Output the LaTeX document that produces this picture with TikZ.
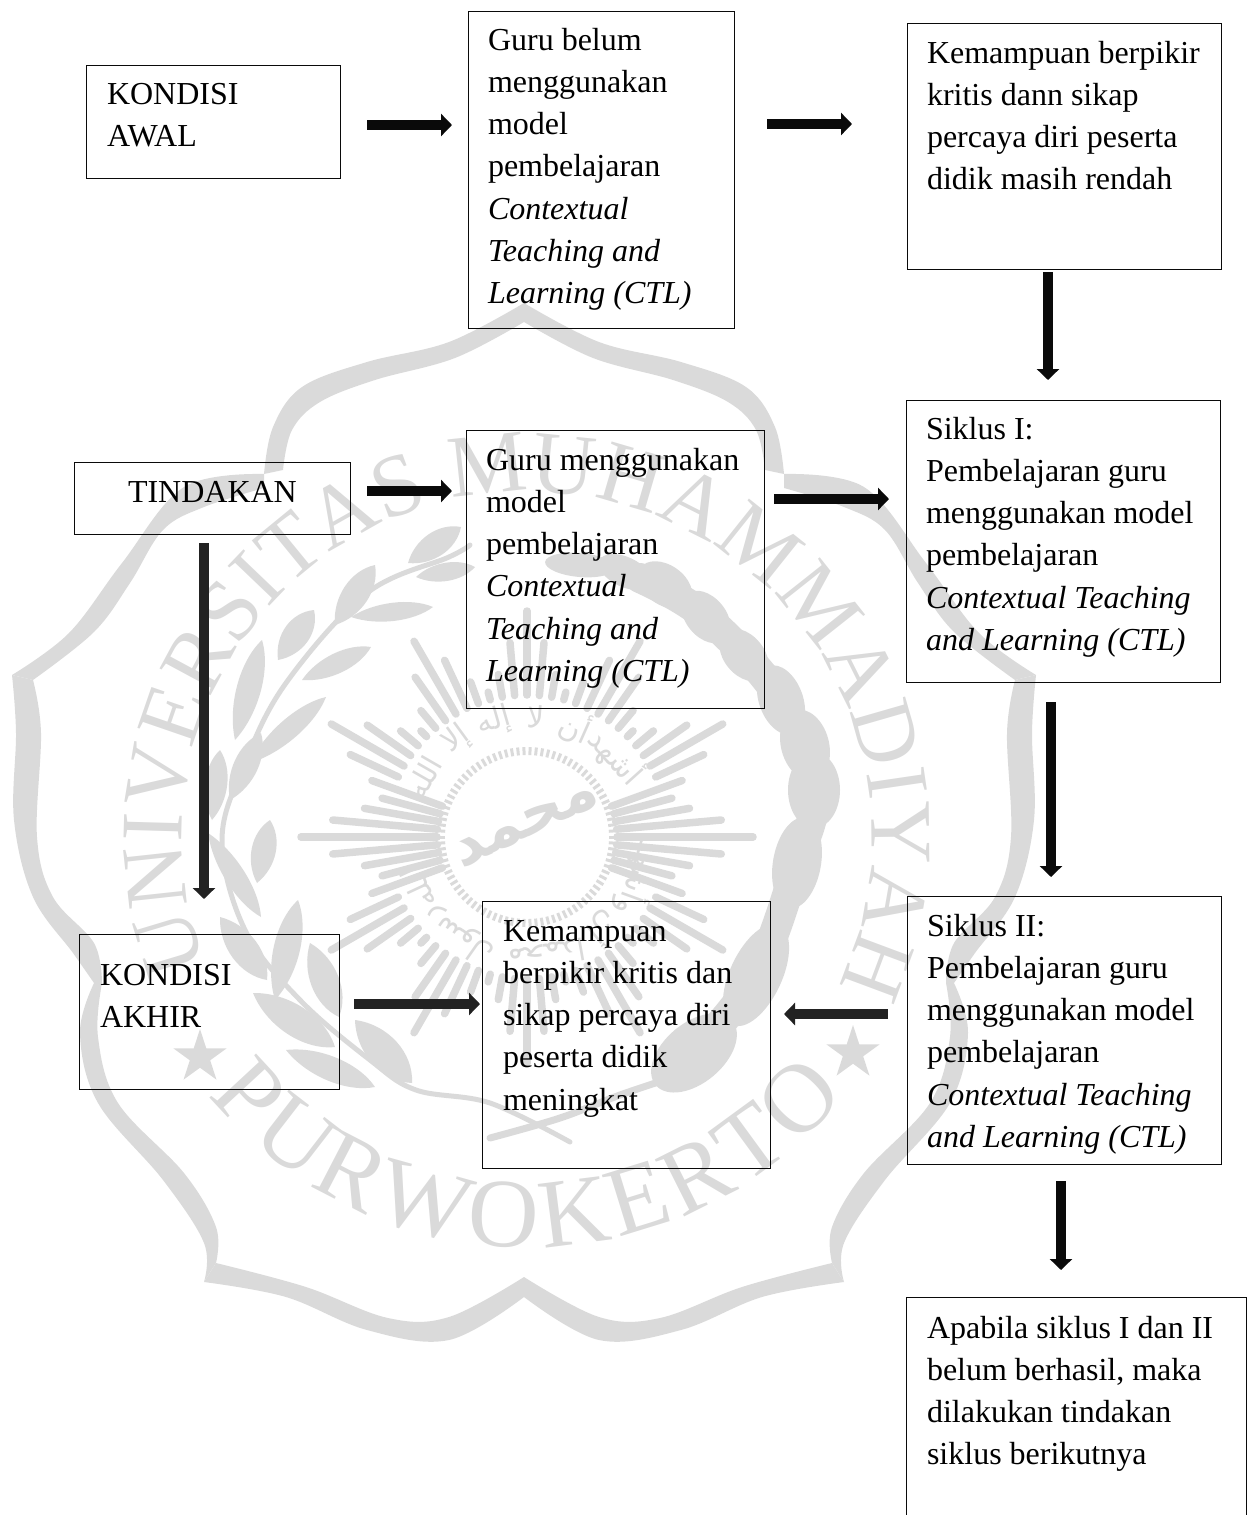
\documentclass[tikz,border=0pt]{standalone}
\usepackage{fontspec}
\setmainfont{Liberation Serif}
\newfontfamily\arabicfont[Script=Arabic]{DejaVu Sans}
\TeXXeTstate=1
\usetikzlibrary{arrows.meta,shapes.geometric,decorations.text,calc}
\definecolor{wm}{HTML}{DADADA}
\definecolor{ink}{HTML}{0A0A0A}
\definecolor{inkb}{HTML}{222222}
\tikzset{
  boxnode/.style={draw=ink,line width=1pt,inner sep=0pt,outer sep=0pt,anchor=north west},
  flow/.style={line width=10.5pt,draw=ink,-{Triangle[length=11pt,width=22pt]}},
  flowb/.style={flow,draw=inkb},
  ray/.style={draw=wm,line width=7.5pt,line cap=round},
  tick/.style={draw=wm,line width=3pt},
  wmword/.style={text=wm,inner sep=0pt},
  wmstar/.style={star,star points=5,star point ratio=2.618,fill=wm,minimum size=56pt,inner sep=0pt}
}
% name, x1, y1, x2, y2, text x, first baseline, text
\newcommand\flowbox[8]{%
  \pgfmathsetlengthmacro{\bw}{(#4-#2)*1pt}%
  \pgfmathsetlengthmacro{\bh}{(#5-#3)*1pt}%
  \pgfmathsetlengthmacro{\bl}{(#6-#2)*1pt}%
  \pgfmathsetlengthmacro{\bt}{(#7-#3-29.6)*1pt}%
  \node[boxnode] (#1) at (#2,#3) {\fontsize{32}{42.3}\selectfont
    \parbox[c][\bh][t]{\bw}{\vspace*{\bt}\raggedright\leftskip=\bl\relax\strut #8}};%
}
% leaf from base to tip with half-width
\newcommand\wmleaf[5]{%
  \pgfmathsetmacro{\lnx}{-(#4-#2)/veclen(#3-#1,#4-#2)*#5*1.35}%
  \pgfmathsetmacro{\lny}{(#3-#1)/veclen(#3-#1,#4-#2)*#5*1.35}%
  \fill[wm] (#1,#2) .. controls ($(#1,#2)!.3!(#3,#4)+(\lnx,\lny)$) and ($(#1,#2)!.75!(#3,#4)+(\lnx,\lny)$) .. (#3,#4)
     .. controls ($(#1,#2)!.75!(#3,#4)-(\lnx,\lny)$) and ($(#1,#2)!.3!(#3,#4)-(\lnx,\lny)$) .. (#1,#2);%
}
\newcommand\wmbead[5]{%
  \fill[wm,rotate around={#5:(#1,#2)}] (#1,#2) ellipse [x radius=#3pt,y radius=#4pt];%
}
\begin{document}
\begin{tikzpicture}[x=1pt,y=-1pt]
\useasboundingbox (0,0) rectangle (1252,1515);
\clip (0,0) rectangle (1252,1515);

%% ---------- watermark ----------
\foreach \mx/\sx in {0/1,1048/-1}{
\begin{scope}[shift={(\mx,0)},x=\sx pt]
  \fill[wm] plot[smooth,tension=.6] coordinates {(524,303)(449,342)(367,362)(302,387)(273,427)(264,474)}
     -- plot[smooth,tension=.6] coordinates {(283,470)(292,430)(320,402)(375,380)(455,358)(524,322)} -- cycle;
  \fill[wm] plot[smooth,tension=.6] coordinates {(264,474)(184,487)(122,563)(69,633)(12,675)}
     -- plot[smooth,tension=.6] coordinates {(33,680)(94,632)(130,583)(163,530)(204,507)(264,488)} -- cycle;
  \fill[wm] plot[smooth,tension=.6] coordinates {(12,675)(16,733)(14,820)(33,897)(73,953)(94,983)}
     -- plot[smooth,tension=.6] coordinates {(102,983)(94,943)(53,897)(37,837)(41,733)(33,680)} -- cycle;
  \fill[wm] plot[smooth,tension=.6] coordinates {(94,983)(80,1033)(98,1103)(163,1180)(204,1243)(204,1282)}
     -- plot[smooth,tension=.6] coordinates {(216,1263)(216,1227)(184,1173)(118,1103)(98,1037)(102,983)} -- cycle;
  \fill[wm] plot[smooth,tension=.6] coordinates {(204,1282)(286,1297)(367,1330)(449,1340)(524,1297)}
     -- plot[smooth,tension=.6] coordinates {(524,1277)(449,1317)(388,1318)(306,1287)(216,1263)} -- cycle;
\end{scope}}

\node[wmstar] (starL) at (200,1057) {};
\node[wmstar] (starR) at (853,1053) {};

% arc lettering
\path[decorate,decoration={text along path,text={|\fontsize{88}{88}\selectfont|UNIVERSITAS MUHAMMADIYAH},text align={fit to path},text color=wm}]
  (207,966) arc[start angle=202,end angle=-22,radius=345pt];
\path[decorate,decoration={text along path,text={|\fontsize{98}{98}\selectfont|PURWOKERTO},text align={fit to path},text color=wm}]
  (208,1095) arc[start angle=219,end angle=321,radius=410pt];

% sun
\foreach \c in {0,30,...,330}{
  \foreach \o/\r in {-10/165,-5/195,0/226,5/195,10/165,15/150}{
    \pgfmathsetmacro{\ang}{\c+\o}
    \pgfmathsetmacro{\rs}{abs(sin(\ang))<0.36 ? 90 : 142}
    \draw[ray] ({527+\rs*cos(\ang)},{837-\rs*sin(\ang)}) -- ({527+\r*cos(\ang)},{837-\r*sin(\ang)});
  }
}
\foreach \a in {0,4,...,356}{
  \draw[tick] ({527+82*cos(\a)},{837-82*sin(\a)}) -- ({527+90*cos(\a)},{837-90*sin(\a)});
}
\node[wmword,font=\fontsize{60}{60}\arabicfont\bfseries,rotate=25] (wmname) at (527,825) {\beginR محمد\endR};
\foreach \i/\ang/\w in {1/42/أشهد,2/66/أن,3/86/لا,4/106/إله,5/126/إلا,6/150/الله,
  7/-20/وأشهد,8/-50/أن,9/-80/محمدا,10/-125/رسول,11/-155/الله}{
  \pgfmathsetmacro{\rot}{\ang-90}
  \node[wmword,font=\fontsize{30}{30}\arabicfont,rotate=\rot] (wmw\i) at ({527+120*cos(\ang)},{837-120*sin(\ang)}) {\beginR \w\endR};
}

% laurel
\draw[wm,line width=5pt,line cap=round] plot[smooth,tension=.6] coordinates {(470,545)(449,557)(367,593)(286,683)(245,763)(222,840)(245,930)(300,1000)(370,1060)(416,1090)(490,1103)(570,1142)};
\wmleaf{408}{563}{461}{527}{12}
\wmleaf{416}{577}{475}{567}{9}
\wmleaf{335}{625}{375}{565}{13}
\wmleaf{351}{617}{433}{607}{9}
\wmleaf{278}{660}{314}{610}{13}
\wmleaf{302}{680}{371}{647}{10}
\wmleaf{235}{740}{262}{640}{12}
\wmleaf{250}{763}{326}{697}{10}
\wmleaf{212}{820}{220}{750}{11}
\wmleaf{230}{800}{261}{733}{12}
\wmleaf{257}{883}{270}{820}{12}
\wmleaf{208}{833}{261}{917}{10}
\wmleaf{220}{917}{267}{980}{14}
\wmleaf{275}{1000}{298}{900}{13}
\wmleaf{253}{993}{335}{1047}{15}
\wmleaf{310}{943}{339}{1017}{14}
\wmleaf{355}{1020}{412}{1083}{16}
\wmleaf{286}{1050}{375}{1087}{12}

% knotted branch
\draw[wm,line width=30pt,line cap=round,line join=round] plot[smooth,tension=.6] coordinates {(640,578)(706,617)(781,700)(814,790)(797,863)(756,975)(694,1053)};
\wmbead{580}{565}{35}{12}{-5}
\wmbead{625}{572}{28}{15}{-25}
\wmbead{665}{585}{30}{20}{-35}
\wmbead{706}{617}{30}{20}{-50}
\wmbead{744}{655}{30}{20}{-50}
\wmbead{781}{700}{36}{22}{-70}
\wmbead{805}{745}{36}{24}{-75}
\wmbead{814}{790}{38}{26}{-90}
\wmbead{797}{863}{46}{24}{80}
\wmbead{756}{975}{55}{26}{65}
\wmbead{694}{1053}{50}{30}{40}
\draw[wm,line width=7pt,line cap=round] plot[smooth,tension=.6] coordinates {(680,1075)(620,1095)(560,1118)(490,1138)};

%% ---------- boxes ----------
\flowbox{awal}{86}{65}{340}{178}{107}{104}{KONDISI\\AWAL}
\flowbox{belum}{468}{11}{734}{328}{488}{50}{Guru belum\\menggunakan\\model\\pembelajaran\\\textit{Contextual}\\\textit{Teaching and}\\\textit{Learning (CTL)}}
\flowbox{rendah}{907}{23}{1221}{269}{927}{63}{Kemampuan berpikir\\kritis dann sikap\\percaya diri peserta\\didik masih rendah}
\flowbox{tindakan}{74}{462}{350}{534}{128}{502}{TINDAKAN}
\flowbox{guru}{466}{430}{764}{708}{486}{470}{Guru menggunakan\\model\\pembelajaran\\\textit{Contextual}\\\textit{Teaching and}\\\textit{Learning (CTL)}}
\flowbox{siklusa}{906}{400}{1220}{682}{926}{439}{Siklus I:\\Pembelajaran guru\\menggunakan model\\pembelajaran\\\textit{Contextual Teaching}\\\textit{and Learning (CTL)}}
\flowbox{akhir}{79}{934}{339}{1089}{100}{985}{KONDISI\\AKHIR}
\flowbox{naik}{482}{901}{770}{1168}{503}{941}{Kemampuan\\berpikir kritis dan\\sikap percaya diri\\peserta didik\\meningkat}
\flowbox{siklusb}{907}{896}{1221}{1164}{927}{936}{Siklus II:\\Pembelajaran guru\\menggunakan model\\pembelajaran\\\textit{Contextual Teaching}\\\textit{and Learning (CTL)}}
\flowbox{lanjut}{906}{1297}{1246}{1535}{927}{1338}{Apabila siklus I dan II\\belum berhasil, maka\\dilakukan tindakan\\siklus berikutnya}

%% ---------- arrows ----------
\coordinate (a1s) at (367,125);   \coordinate (a1e) at (452,125);
\coordinate (a2s) at (767,124);   \coordinate (a2e) at (852,124);
\coordinate (a3s) at (1048,272);  \coordinate (a3e) at (1048,380);
\coordinate (a4s) at (367,491);   \coordinate (a4e) at (452,491);
\coordinate (a5s) at (774,499);   \coordinate (a5e) at (889,499);
\coordinate (a6s) at (1051,702);  \coordinate (a6e) at (1051,877);
\coordinate (a7s) at (204,543);   \coordinate (a7e) at (204,899);
\coordinate (a8s) at (354,1004);  \coordinate (a8e) at (480,1004);
\coordinate (a9s) at (888,1014);  \coordinate (a9e) at (784,1014);
\coordinate (a10s) at (1061,1181);\coordinate (a10e) at (1061,1270);
\draw[flow] (a1s) -- (a1e);
\draw[flow] (a2s) -- (a2e);
\draw[flow] (a3s) -- (a3e);
\draw[flow] (a4s) -- (a4e);
\draw[flow] (a5s) -- (a5e);
\draw[flow] (a6s) -- (a6e);
\draw[flowb] (a7s) -- (a7e);
\draw[flowb] (a8s) -- (a8e);
\draw[flowb] (a9s) -- (a9e);
\draw[flow] (a10s) -- (a10e);
\end{tikzpicture}
\end{document}
